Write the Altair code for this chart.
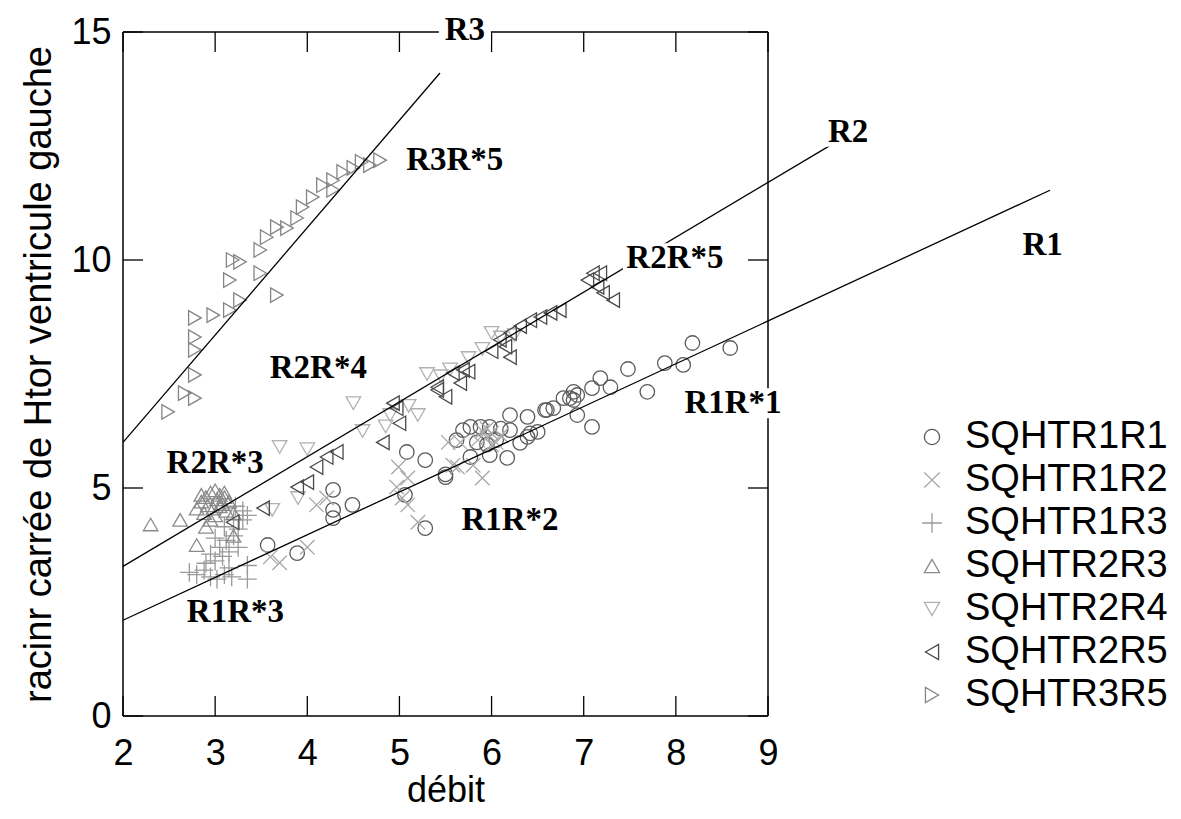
import altair as alt
import pandas as pd

# ---------------- data ----------------
series_names = ["SQHTR1R1", "SQHTR1R2", "SQHTR1R3", "SQHTR2R3", "SQHTR2R4", "SQHTR2R5", "SQHTR3R5"]

r1r1_x = [3.57,3.89,4.28,4.28,4.49,4.28,5.08,5.28,5.06,5.50,5.28,5.69,5.77,5.88,5.98,6.20,6.17,5.98,6.39,6.42,6.60,6.67,6.85,6.93,6.93,5.77,5.84,6.20,6.31,8.18,8.59,8.08,7.88,7.69,7.48,7.29,7.18,7.09,7.09,6.89,6.89,6.78,6.58,6.50,6.39,5.50,5.62,6.05,6.10,5.95]
r1r1_y = [3.75,3.57,4.96,4.52,4.63,4.34,5.79,5.61,4.85,5.24,4.12,6.27,6.34,6.34,6.34,6.60,5.66,5.72,6.56,6.20,6.71,6.75,6.97,7.04,6.60,5.68,6.00,6.27,5.99,8.18,8.07,7.70,7.74,7.11,7.61,7.21,7.41,7.19,6.34,7.11,6.93,6.97,6.71,6.23,6.12,5.30,6.05,6.05,6.30,5.95]

r1r2_x = [3.60,3.70,4.00,4.10,4.21,4.97,4.99,5.09,5.03,5.09,5.20,5.53,5.63,5.80,5.90,5.66,5.58,5.95,6.00,6.05,5.90,6.10,5.85,6.00,5.95]
r1r2_y = [3.49,3.36,3.70,4.63,4.78,5.02,5.46,5.22,4.78,4.63,4.25,6.00,5.46,5.50,5.22,6.00,5.50,6.10,6.20,6.00,6.25,6.15,6.05,5.95,6.30]

r1r3_x = [2.72,2.80,2.88,2.95,3.02,3.10,3.18,3.35,3.35,2.90,3.00,3.08,3.15,3.05,3.12,3.20,3.25,3.30,3.30,3.20,3.10,3.00,3.25,3.15,2.95,3.35,3.22]
r1r3_y = [3.15,3.10,3.20,3.05,3.00,3.10,3.05,3.00,3.30,3.35,3.40,3.50,3.60,3.70,3.85,3.95,4.10,4.30,4.50,4.30,4.15,3.90,3.70,3.25,3.55,4.40,4.60]

r2r3_x = [2.30,2.62,2.80,2.85,2.90,2.95,3.00,3.05,3.10,3.02,2.92,2.98,3.08,3.15,2.88,3.00,3.12,2.95,3.20,2.80,3.20,2.90,3.05,2.85,3.10]
r2r3_y = [4.20,4.30,4.55,4.70,4.80,4.90,4.95,4.85,4.90,4.75,4.62,4.55,4.65,4.70,4.45,4.40,4.50,4.30,4.45,3.75,3.95,4.15,4.60,4.85,4.80]

r2r4_x = [3.62,3.70,3.90,4.00,4.50,4.60,4.85,5.10,5.30,5.45,5.55,5.75,5.90,6.00,6.10,6.25,5.20,4.90]
r2r4_y = [4.52,5.90,4.78,5.85,6.86,6.25,6.35,6.80,7.50,7.45,7.60,7.85,8.05,8.40,8.30,8.35,6.60,6.60]

r2r5_x = [3.19,3.52,3.89,4.00,4.10,4.21,4.32,4.82,4.93,5.00,4.97,5.41,5.41,5.58,5.66,5.69,5.75,6.09,6.20,6.20,6.31,6.42,6.53,6.64,6.74,7.04,7.10,7.15,7.18,7.21,7.32,6.15,5.50,6.00]
r2r5_y = [4.25,4.56,5.02,5.13,5.46,5.68,5.79,6.00,6.86,6.42,6.75,7.15,7.21,7.52,7.30,7.59,7.55,8.25,7.87,8.40,8.55,8.68,8.75,8.84,8.90,9.56,9.71,9.41,9.71,9.28,9.12,8.10,7.00,8.00]

r3r5_x = [4.79,4.68,4.59,4.50,4.39,4.28,4.28,4.17,4.06,3.95,3.89,3.78,3.67,3.56,3.49,3.19,3.27,3.16,3.49,3.67,3.27,3.16,2.98,2.78,2.78,2.78,2.78,2.67,2.78,2.49]
r3r5_y = [12.19,12.08,12.15,12.02,11.93,11.75,11.54,11.64,11.38,11.16,10.92,10.70,10.72,10.50,10.22,10.00,9.96,9.56,9.71,9.23,9.12,8.90,8.79,8.73,8.31,8.03,7.48,7.08,6.97,6.67]

series_x = [r1r1_x, r1r2_x, r1r3_x, r2r3_x, r2r4_x, r2r5_x, r3r5_x]
series_y = [r1r1_y, r1r2_y, r1r3_y, r2r3_y, r2r4_y, r2r5_y, r3r5_y]

series_colors = ["#5a5a5a", "#a8a8a8", "#9a9a9a", "#8a8a8a", "#b0b0b0", "#4a4a4a", "#858585"]
series_shapes = ["circle", "M-1,-1L1,1M-1,1L1,-1", "M0,-1.3L0,1.3M-1.3,0L1.3,0",
                 "triangle-up", "triangle-down", "triangle-left", "triangle-right"]

# fitted lines
line_names = ["R1", "R2", "R3"]
line_x0 = [2.0, 2.0, 2.0]
line_y0 = [2.10, 3.28, 6.00]
line_x1 = [12.06, 9.68, 5.44]
line_y1 = [11.53, 12.52, 14.10]

# annotations
long_labels = ["R3R*5", "R2R*5", "R2R*4", "R2R*3", "R1R*1", "R1R*2", "R1R*3"]
long_lx = [5.60, 7.99, 4.12, 3.00, 8.62, 6.20, 3.22]
long_ly = [12.19, 10.04, 7.63, 5.55, 6.86, 4.30, 2.28]
short_labels = ["R3", "R2", "R1"]
short_lx = [5.71, 9.87, 11.98]
short_ly = [15.04, 12.81, 10.33]

x_ticks = [2, 3, 4, 5, 6, 7, 8, 9]
y_ticks = [0, 5, 10, 15]

# ---------------- frames ----------------
rows = []
for name, xs_, ys_ in zip(series_names, series_x, series_y):
    for a, b in zip(xs_, ys_):
        rows.append({"serie": name, "debit": a, "val": b})
pts = pd.DataFrame(rows)

lines = pd.DataFrame(
    [{"line": n, "debit": a, "val": b} for n, a, b in zip(line_names, line_x0, line_y0)]
    + [{"line": n, "debit": a, "val": b} for n, a, b in zip(line_names, line_x1, line_y1)]
)
long_df = pd.DataFrame({"lab": long_labels, "debit": long_lx, "val": long_ly})
short_df = pd.DataFrame({"lab": short_labels, "debit": short_lx, "val": short_ly})
xt = pd.DataFrame({"t": x_ticks})
yt = pd.DataFrame({"t": y_ticks})
frame_df = pd.DataFrame({"t": [0]})

W, H = 645, 684
TL = 20

xs = alt.Scale(domain=[2, 9], nice=False, zero=False)
ys = alt.Scale(domain=[0, 15], nice=False, zero=False)
X = alt.X("debit:Q", scale=xs, title="débit",
          axis=alt.Axis(values=x_ticks, format="d", ticks=False, domain=False, grid=False,
                        labelFlush=False,
                        labelFontSize=36, labelPadding=20, titleFontSize=36,
                        titlePadding=2, labelFont="Liberation Sans", titleFont="Liberation Sans",
                        titleFontWeight="normal", labelColor="#000", titleColor="#000"))
Y = alt.Y("val:Q", scale=ys, title="racinr carrée de Htor ventricule gauche",
          axis=alt.Axis(values=y_ticks, format="d", ticks=False, domain=False, grid=False,
                        labelFlush=False,
                        labelFontSize=36, labelPadding=12, titleFontSize=38,
                        titlePadding=12, labelFont="Liberation Sans", titleFont="Liberation Sans",
                        titleFontWeight="normal", labelColor="#000", titleColor="#000"))

leg = alt.Legend(title=None, orient="none", legendX=790, legendY=386,
                 labelFontSize=38, labelFont="Liberation Sans", labelLimit=0,
                 labelColor="#000", symbolSize=230, symbolStrokeWidth=1.3,
                 rowPadding=5, labelOffset=14, padding=0)

points = alt.Chart(pts).mark_point(filled=False, size=210, strokeWidth=1.3, opacity=1).encode(
    x=X, y=Y,
    shape=alt.Shape("serie:N", scale=alt.Scale(domain=series_names, range=series_shapes), legend=leg),
    color=alt.Color("serie:N", scale=alt.Scale(domain=series_names, range=series_colors), legend=leg),
)

line_layer = alt.Chart(lines).mark_line(color="black", strokeWidth=1.3, clip=False).encode(
    x=alt.X("debit:Q", scale=xs), y=alt.Y("val:Q", scale=ys), detail="line:N")

frame_kw = dict(color="black", strokeWidth=1.5)
fr_top = alt.Chart(frame_df).mark_rule(**frame_kw).encode(x=alt.value(0), x2=alt.value(W), y=alt.value(0))
fr_bot = alt.Chart(frame_df).mark_rule(**frame_kw).encode(x=alt.value(0), x2=alt.value(W), y=alt.value(H))
fr_left = alt.Chart(frame_df).mark_rule(**frame_kw).encode(y=alt.value(0), y2=alt.value(H), x=alt.value(0))
fr_right = alt.Chart(frame_df).mark_rule(**frame_kw).encode(y=alt.value(0), y2=alt.value(H), x=alt.value(W))

long_bg = alt.Chart(long_df).mark_rect(
    color="white", opacity=1, clip=False, xOffset=-52, x2Offset=52, yOffset=-15, y2Offset=15
).encode(x=alt.X("debit:Q", scale=xs), x2="debit:Q", y=alt.Y("val:Q", scale=ys), y2="val:Q")
short_bg = alt.Chart(short_df).mark_rect(
    color="white", opacity=1, clip=False, xOffset=-26, x2Offset=26, yOffset=-15, y2Offset=15
).encode(x=alt.X("debit:Q", scale=xs), x2="debit:Q", y=alt.Y("val:Q", scale=ys), y2="val:Q")

text_kw = dict(font="Liberation Serif", fontWeight="bold", fontSize=33, color="black",
               align="center", baseline="middle", clip=False)
long_txt = alt.Chart(long_df).mark_text(**text_kw).encode(
    x=alt.X("debit:Q", scale=xs), y=alt.Y("val:Q", scale=ys), text="lab:N")
short_txt = alt.Chart(short_df).mark_text(**text_kw).encode(
    x=alt.X("debit:Q", scale=xs), y=alt.Y("val:Q", scale=ys), text="lab:N")

tick_bottom = alt.Chart(xt).mark_rule(color="black", strokeWidth=1.3).encode(
    x=alt.X("t:Q", scale=xs), y=alt.value(H), y2=alt.value(H - TL))
tick_top = alt.Chart(xt).mark_rule(color="black", strokeWidth=1.3).encode(
    x=alt.X("t:Q", scale=xs), y=alt.value(0), y2=alt.value(TL))
tick_left = alt.Chart(yt).mark_rule(color="black", strokeWidth=1.3).encode(
    y=alt.Y("t:Q", scale=ys), x=alt.value(0), x2=alt.value(TL))
tick_right = alt.Chart(yt).mark_rule(color="black", strokeWidth=1.3).encode(
    y=alt.Y("t:Q", scale=ys), x=alt.value(W), x2=alt.value(W - TL))

chart = alt.layer(
    points, fr_top, fr_bot, fr_left, fr_right,
    tick_bottom, tick_top, tick_left, tick_right,
    line_layer, long_bg, short_bg, long_txt, short_txt
).properties(
    width=W, height=H,
    autosize=alt.AutoSizeParams(type="none"),
    padding={"left": 115, "top": 24, "right": 405, "bottom": 95},
    background="white",
).configure_view(stroke=None)

chart.save("out.html", embed_options={"renderer": "svg", "actions": False})
